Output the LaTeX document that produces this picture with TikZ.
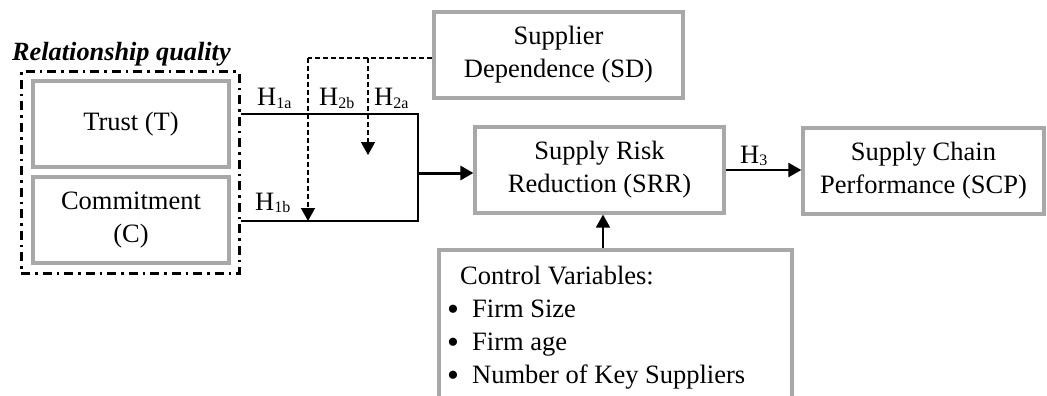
\documentclass[tikz,border=0pt]{standalone}
\usepackage{fontspec}
\setmainfont{Liberation Serif}
\usetikzlibrary{arrows.meta}
\definecolor{boxgray}{HTML}{A8A8A8}
\newcommand{\Hsub}[1]{H\raisebox{-2.5pt}{\fontsize{16}{16}\selectfont #1}}
\newcommand{\bigbullet}{\smash{\raisebox{-3.5pt}{\fontsize{34}{34}\selectfont\textbullet}}}
\tikzset{
  varbox/.style={draw=boxgray, line width=3.2pt, rectangle, inner sep=0pt,
    align=center, font=\fontsize{26.5}{33}\selectfont},
  groupbox/.style={draw=black, line width=3pt, rectangle, inner sep=0pt,
    dash pattern=on 9pt off 5pt on 2.5pt off 5pt},
  link/.style={draw=black, line width=1.8pt},
  modlink/.style={draw=black, line width=1.4pt, dash pattern=on 5pt off 3pt},
  tip/.style={-{Triangle[length=13pt,width=14pt]}},
  lbl/.style={inner sep=0pt, anchor=base west, font=\fontsize{26.5}{33}\selectfont},
}
\begin{document}
\begin{tikzpicture}[x=1pt, y=-1pt]
\useasboundingbox (0,0) rectangle (1047,396);
\clip (0,0) rectangle (1047,396);

% construct group
\node[lbl, font=\fontsize{26.3}{33}\selectfont\bfseries\itshape] (rqlabel) at (12,60) {Relationship quality};
\node[groupbox, minimum width=218pt, minimum height=201pt] (rq) at (130,172.5) {};
\node[varbox, minimum width=196pt, minimum height=86pt] (trust) at (131,124) {Trust (T)};
\node[varbox, minimum width=196pt, minimum height=86pt] (commit) at (131,220) {Commitment\\(C)};

% other constructs
\node[varbox, minimum width=249pt, minimum height=86pt] (sd) at (558.5,55) {Supplier\\Dependence (SD)};
\node[varbox, minimum width=249pt, minimum height=86pt] (srr) at (599.5,170) {Supply Risk\\Reduction (SRR)};
\node[varbox, minimum width=241pt, minimum height=86pt] (scp) at (923.5,171) {Supply Chain\\Performance (SCP)};
\node[varbox, minimum width=353pt, minimum height=160pt] (ctrl) at (615.5,330) {};

% control variables list
\node[lbl] (cv0) at (460,284) {Control Variables:};
\node[lbl] (cv1) at (472,317) {Firm Size};
\node[lbl] (cv2) at (472,350) {Firm age};
\node[lbl] (cv3) at (472,383) {Number of Key Suppliers};
\node[lbl] (b1) at (447,317) {\bigbullet};
\node[lbl] (b2) at (447,350) {\bigbullet};
\node[lbl] (b3) at (447,383) {\bigbullet};

% junction points
\coordinate (tStart) at (rq.east |- 0,114);
\coordinate (cStart) at (rq.east |- 0,221);
\coordinate (tCorner) at (418,114);
\coordinate (cCorner) at (418,221);
\coordinate (join) at (418,173);
\coordinate (sdOut) at (sd.west |- 0,58);
\coordinate (m1) at (308,58);
\coordinate (m2) at (368,58);
\coordinate (m1end) at (308,221);
\coordinate (m2end) at (368,155);

% main paths
\draw[link] (tStart) -- (tCorner) -- (cCorner) -- (cStart);
\draw[link, line width=3pt, tip] (join) -- (srr.west |- join);
\draw[link, line width=2.2pt, tip] (srr.east) -- (scp.west |- srr.east);
\draw[link, tip] (ctrl.north -| 603,0) -- (srr.south -| 603,0);

% moderating paths
\draw[modlink] (sdOut) -- (m1);
\draw[modlink, tip] (m1) -- (m1end);
\draw[modlink, tip] (m2) -- (m2end);

% hypothesis labels
\node[lbl] (h1a) at (257,106) {\Hsub{1a}};
\node[lbl] (h2b) at (319,106) {\Hsub{2b}};
\node[lbl] (h2a) at (374,106) {\Hsub{2a}};
\node[lbl] (h1b) at (255,210) {\Hsub{1b}};
\node[lbl] (h3) at (740,163) {\Hsub{3}};
\end{tikzpicture}
\end{document}
